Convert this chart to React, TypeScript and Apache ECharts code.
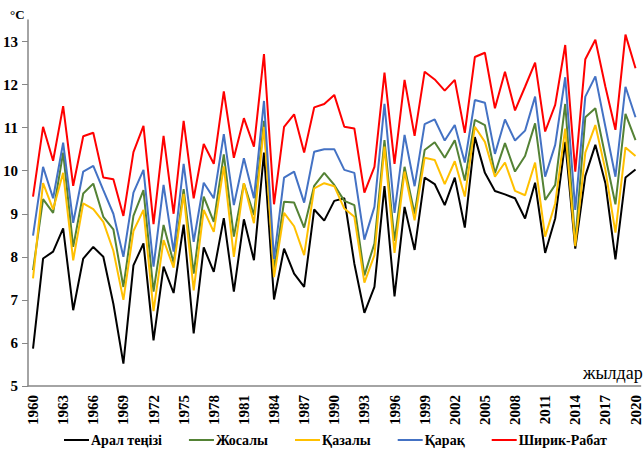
import React, { useEffect, useRef } from "react";
import * as echarts from "echarts";

const years: string[] = [];
for (let y = 1960; y <= 2020; y++) years.push(String(y));

const aral = [5.87, 7.96, 8.12, 8.66, 6.76, 7.96, 8.23, 8.0, 6.91, 5.52,
  7.8, 8.31, 6.06, 7.77, 7.16, 8.75, 6.22, 8.22, 7.65, 8.9,
  7.19, 8.87, 7.92, 10.42, 7.01, 8.19, 7.61, 7.3, 9.1, 8.84,
  9.3, 9.36, 7.84, 6.7, 7.3, 9.64, 7.08, 9.16, 8.16, 9.84,
  9.69, 9.2, 9.84, 8.68, 10.78, 9.95, 9.53, 9.45, 9.36, 8.89,
  9.72, 8.09, 8.89, 10.67, 8.19, 9.88, 10.6, 9.71, 7.94, 9.84, 10.03];

const zhosaly = [7.69, 9.34, 9.02, 10.42, 8.23, 9.47, 9.7, 8.93, 8.64, 7.3,
  8.95, 9.55, 7.19, 8.74, 7.86, 9.57, 7.61, 9.4, 8.81, 10.38,
  8.47, 9.71, 8.97, 11.16, 7.69, 9.28, 9.26, 8.68, 9.65, 9.95,
  9.67, 9.3, 9.2, 7.57, 8.31, 10.71, 8.37, 10.09, 9.0, 10.48,
  10.66, 10.3, 10.71, 9.77, 11.18, 11.06, 9.94, 10.64, 9.98, 10.34,
  11.1, 9.32, 9.67, 11.55, 8.35, 11.24, 11.45, 10.33, 9.22, 11.32, 10.71];

const kazaly = [7.5, 9.71, 9.1, 9.95, 7.92, 9.24, 9.11, 8.81, 8.14, 7.0,
  8.6, 9.09, 6.74, 8.39, 7.75, 9.46, 7.22, 9.09, 8.58, 10.1,
  8.0, 9.71, 8.78, 11.02, 7.53, 9.02, 8.71, 8.04, 9.59, 9.71,
  9.64, 9.12, 8.93, 7.4, 8.04, 10.56, 8.09, 9.98, 8.85, 10.3,
  10.25, 9.69, 10.22, 9.4, 11.02, 10.67, 9.86, 10.19, 9.53, 9.43,
  10.19, 8.47, 9.24, 10.98, 8.25, 10.42, 11.06, 10.02, 8.56, 10.54, 10.34];

const karak = [8.49, 10.09, 9.36, 10.65, 8.79, 9.98, 10.11, 9.55, 9.0, 8.0,
  9.49, 10.02, 7.77, 9.67, 8.12, 10.16, 8.35, 9.72, 9.36, 10.85,
  9.2, 10.29, 9.36, 11.62, 7.95, 9.84, 9.98, 9.26, 10.44, 10.5,
  10.5, 10.02, 9.95, 8.4, 9.16, 11.55, 9.02, 10.83, 9.64, 11.08,
  11.19, 10.7, 11.06, 10.19, 11.64, 11.58, 10.39, 11.19, 10.7, 10.93,
  11.72, 9.86, 10.6, 12.17, 9.09, 11.72, 12.19, 11.02, 9.86, 11.95, 11.24];

const shirikRabat = [9.4, 11.02, 10.23, 11.5, 9.65, 10.8, 10.88, 9.84, 9.8, 8.95,
  10.43, 11.04, 8.76, 10.81, 9.0, 11.16, 9.36, 10.62, 10.16, 11.84,
  10.3, 11.22, 10.56, 12.71, 9.22, 11.02, 11.31, 10.42, 11.47, 11.55,
  11.76, 11.02, 10.98, 9.49, 10.09, 12.28, 10.16, 12.11, 10.81, 12.3,
  12.12, 11.86, 12.11, 10.88, 12.64, 12.74, 11.45, 12.3, 11.4, 11.95,
  12.51, 10.91, 11.53, 12.92, 9.98, 12.59, 13.04, 11.95, 10.95, 13.16, 12.38];

const seriesNames = ["Арал теңізі", "Жосалы", "Қазалы", "Қарақ", "Ширик-Рабат"];
const seriesColors = ["#000000", "#548235", "#FFC000", "#4472C4", "#FF0000"];
const seriesData = [aral, zhosaly, kazaly, karak, shirikRabat];
const yTicks = [5, 6, 7, 8, 9, 10, 11, 12, 13];

const FONT = "'Liberation Serif', 'Times New Roman', serif";

export default function App() {
  const ref = useRef<HTMLDivElement>(null);
  useEffect(() => {
    if (!ref.current) return;
    const chart = echarts.init(ref.current, undefined, { renderer: "svg" });
    chart.setOption({
      animation: false,
      backgroundColor: "#ffffff",
      grid: { left: 28, right: 0, top: 20, bottom: 67, containLabel: false },
      xAxis: {
        type: "category",
        data: years,
        boundaryGap: true,
        axisLine: { show: true, lineStyle: { color: "#868686", width: 1.5 } },
        axisTick: { show: false },
        axisLabel: {
          interval: 2,
          rotate: 90,
          margin: 9,
          color: "#000",
          fontFamily: FONT,
          fontWeight: "bold",
          fontSize: 15,
        },
        splitLine: { show: false },
      },
      yAxis: {
        type: "value",
        min: 5,
        max: 13.5,
        interval: 1,
        axisLine: { show: true, lineStyle: { color: "#868686", width: 1.5 } },
        axisTick: { show: true, length: 6, lineStyle: { color: "#868686" }, customValues: yTicks },
        axisLabel: {
          customValues: yTicks,
          margin: 10,
          color: "#000",
          fontFamily: FONT,
          fontWeight: "bold",
          fontSize: 15,
        },
        splitLine: { show: false },
      },
      legend: {
        left: 59,
        top: 428,
        icon: "rect",
        itemWidth: 25,
        itemHeight: 2,
        itemGap: 27,
        textStyle: { fontFamily: FONT, fontWeight: "bold", fontSize: 14, color: "#000", padding: [0, 0, 0, -3] },
        data: seriesNames,
      },
      graphic: [
        {
          type: "text",
          left: 10,
          top: 8,
          style: { text: "°C", font: `bold 13px ${FONT}`, fill: "#000" },
        },
        {
          type: "text",
          left: 583,
          top: 364,
          style: { text: "жылдар", font: `18px ${FONT}`, fill: "#000" },
        },
      ],
      series: seriesNames.map((name, i) => ({
        name,
        type: "line",
        data: seriesData[i],
        symbol: "none",
        lineStyle: { color: seriesColors[i], width: 2 },
        itemStyle: { color: seriesColors[i] },
      })),
    });
    return () => chart.dispose();
  }, []);
  return <div ref={ref} style={{ width: 643, height: 453, position: "absolute", left: 0, top: 0 }} />;
}
